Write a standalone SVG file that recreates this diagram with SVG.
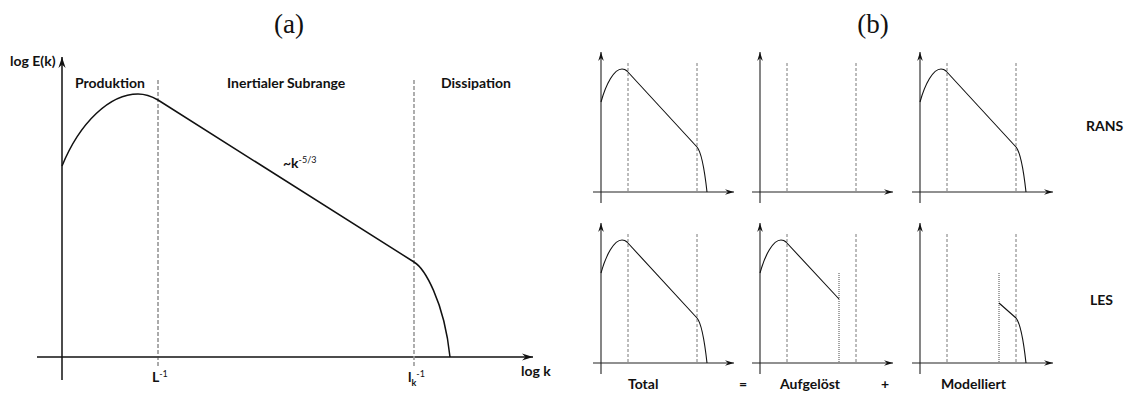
<svg xmlns="http://www.w3.org/2000/svg" width="1142" height="394" viewBox="0 0 1142 394">
<style>
.ax{stroke:#111;stroke-width:1.5;fill:none}
.axs{stroke:#222;stroke-width:1.1;fill:none}
.cv{stroke:#111;stroke-width:1.5;fill:none;stroke-linejoin:round}
.cvs{stroke:#111;stroke-width:1.1;fill:none;stroke-linejoin:round}
.d1{stroke:#444;stroke-width:0.9;stroke-dasharray:4 2;fill:none}
.d2{stroke:#9a9a9a;stroke-width:1.6;stroke-dasharray:4 2;fill:none}
.ds{stroke:#555;stroke-width:0.8;stroke-dasharray:3 2;fill:none}
.dt{stroke:#333;stroke-width:0.9;stroke-dasharray:1 1;fill:none}
.lb{font-family:Lato,"Open Sans","DejaVu Sans",sans-serif;font-weight:bold;font-size:14px;fill:#111}
.tt{font-family:"Liberation Serif","DejaVu Serif",serif;font-size:27px;fill:#111}
</style>
<defs>
<marker id="ah" viewBox="-11 -4 11 8" refX="0" refY="0" markerWidth="11" markerHeight="8" markerUnits="userSpaceOnUse" orient="auto">
<path d="M0,0 L-11,-3.6 L-7.5,0 L-11,3.6 Z" fill="#111"/>
</marker>
<marker id="ahs" viewBox="-9 -3 9 6" refX="0" refY="0" markerWidth="9" markerHeight="6" markerUnits="userSpaceOnUse" orient="auto">
<path d="M0,0 L-9,-2.8 L-6,0 L-9,2.8 Z" fill="#111"/>
</marker>
</defs>

<text class="tt" x="289" y="33" text-anchor="middle">(a)</text>
<text class="tt" x="873" y="33" text-anchor="middle">(b)</text>

<g id="panel-a">
<line class="ax" x1="62" y1="380" x2="62" y2="57" marker-end="url(#ah)"/>
<line class="ax" x1="37" y1="357" x2="533" y2="357" marker-end="url(#ah)"/>
<line class="d1" x1="158" y1="80" x2="158" y2="368"/>
<line class="d2" x1="414" y1="80" x2="414" y2="368"/>
<path class="cv" d="M62,166 C80,122 110,94 138,94 C146,94 152,96.5 158,100 L414,262 C424,268 444,300 450,357"/>
<text class="lb" x="10" y="66">log E(k)</text>
<text class="lb" x="75" y="88">Produktion</text>
<text class="lb" x="227" y="88">Inertialer Subrange</text>
<text class="lb" x="441" y="88">Dissipation</text>
<text class="lb" x="283" y="168">~k<tspan font-size="9" font-weight="normal" dy="-5">-5/3</tspan></text>
<text class="lb" x="152" y="382">L<tspan font-size="9" font-weight="normal" dy="-5">-1</tspan></text>
<text class="lb" x="408" y="382">l<tspan font-size="9" dy="4">k</tspan><tspan font-size="9" font-weight="normal" dy="-9">-1</tspan></text>
<text class="lb" x="521" y="376">log k</text>
</g>

<g id="rans-total">
<line class="axs" x1="601" y1="203" x2="601" y2="52" marker-end="url(#ahs)"/>
<line class="axs" x1="593" y1="192" x2="734" y2="192" marker-end="url(#ahs)"/>
<line class="ds" x1="628" y1="63" x2="628" y2="192"/>
<line class="ds" x1="697" y1="63" x2="697" y2="192"/>
<path class="cvs" d="M601,102 C606,84 614,69 622,69 C624,69 626,70 627,71 L697,147 C700.5,151 704,165 707,192"/>
</g>
<g id="rans-aufgeloest">
<line class="axs" x1="760" y1="203" x2="760" y2="52" marker-end="url(#ahs)"/>
<line class="axs" x1="752" y1="192" x2="893" y2="192" marker-end="url(#ahs)"/>
<line class="ds" x1="787" y1="63" x2="787" y2="192"/>
<line class="ds" x1="856" y1="63" x2="856" y2="192"/>
</g>
<g id="rans-modelliert">
<line class="axs" x1="920" y1="203" x2="920" y2="52" marker-end="url(#ahs)"/>
<line class="axs" x1="912" y1="192" x2="1053" y2="192" marker-end="url(#ahs)"/>
<line class="ds" x1="947" y1="63" x2="947" y2="192"/>
<line class="ds" x1="1016" y1="63" x2="1016" y2="192"/>
<path class="cvs" d="M920,102 C925,84 933,69 941,69 C943,69 945,70 946,71 L1016,147 C1019.5,151 1023,165 1026,192"/>
</g>
<text class="lb" x="1086" y="131">RANS</text>

<g id="les-total">
<line class="axs" x1="601" y1="374" x2="601" y2="223" marker-end="url(#ahs)"/>
<line class="axs" x1="593" y1="363" x2="734" y2="363" marker-end="url(#ahs)"/>
<line class="ds" x1="628" y1="234" x2="628" y2="363"/>
<line class="ds" x1="697" y1="234" x2="697" y2="363"/>
<path class="cvs" d="M601,273 C606,255 614,240 622,240 C624,240 626,241 627,242 L697,318 C700.5,322 704,336 707,363"/>
</g>
<g id="les-aufgeloest">
<line class="axs" x1="760" y1="374" x2="760" y2="223" marker-end="url(#ahs)"/>
<line class="axs" x1="752" y1="363" x2="893" y2="363" marker-end="url(#ahs)"/>
<line class="ds" x1="787" y1="234" x2="787" y2="363"/>
<line class="ds" x1="856" y1="234" x2="856" y2="363"/>
<line class="dt" x1="839" y1="273" x2="839" y2="363"/>
<path class="cvs" d="M760,273 C765,255 773,240 781,240 C783,240 785,241 786,242 L839,299"/>
</g>
<g id="les-modelliert">
<line class="axs" x1="920" y1="374" x2="920" y2="223" marker-end="url(#ahs)"/>
<line class="axs" x1="912" y1="363" x2="1053" y2="363" marker-end="url(#ahs)"/>
<line class="ds" x1="947" y1="234" x2="947" y2="363"/>
<line class="ds" x1="1016" y1="234" x2="1016" y2="363"/>
<line class="dt" x1="999" y1="273" x2="999" y2="363"/>
<path class="cvs" d="M999,303 L1016,318 C1019.5,322 1023,336 1026,363"/>
</g>
<text class="lb" x="1090" y="305">LES</text>

<text class="lb" x="628" y="389">Total</text>
<text class="lb" x="743" y="389" text-anchor="middle">=</text>
<text class="lb" x="780" y="389">Aufgelöst</text>
<text class="lb" x="885" y="389" text-anchor="middle">+</text>
<text class="lb" x="941" y="389">Modelliert</text>
</svg>
